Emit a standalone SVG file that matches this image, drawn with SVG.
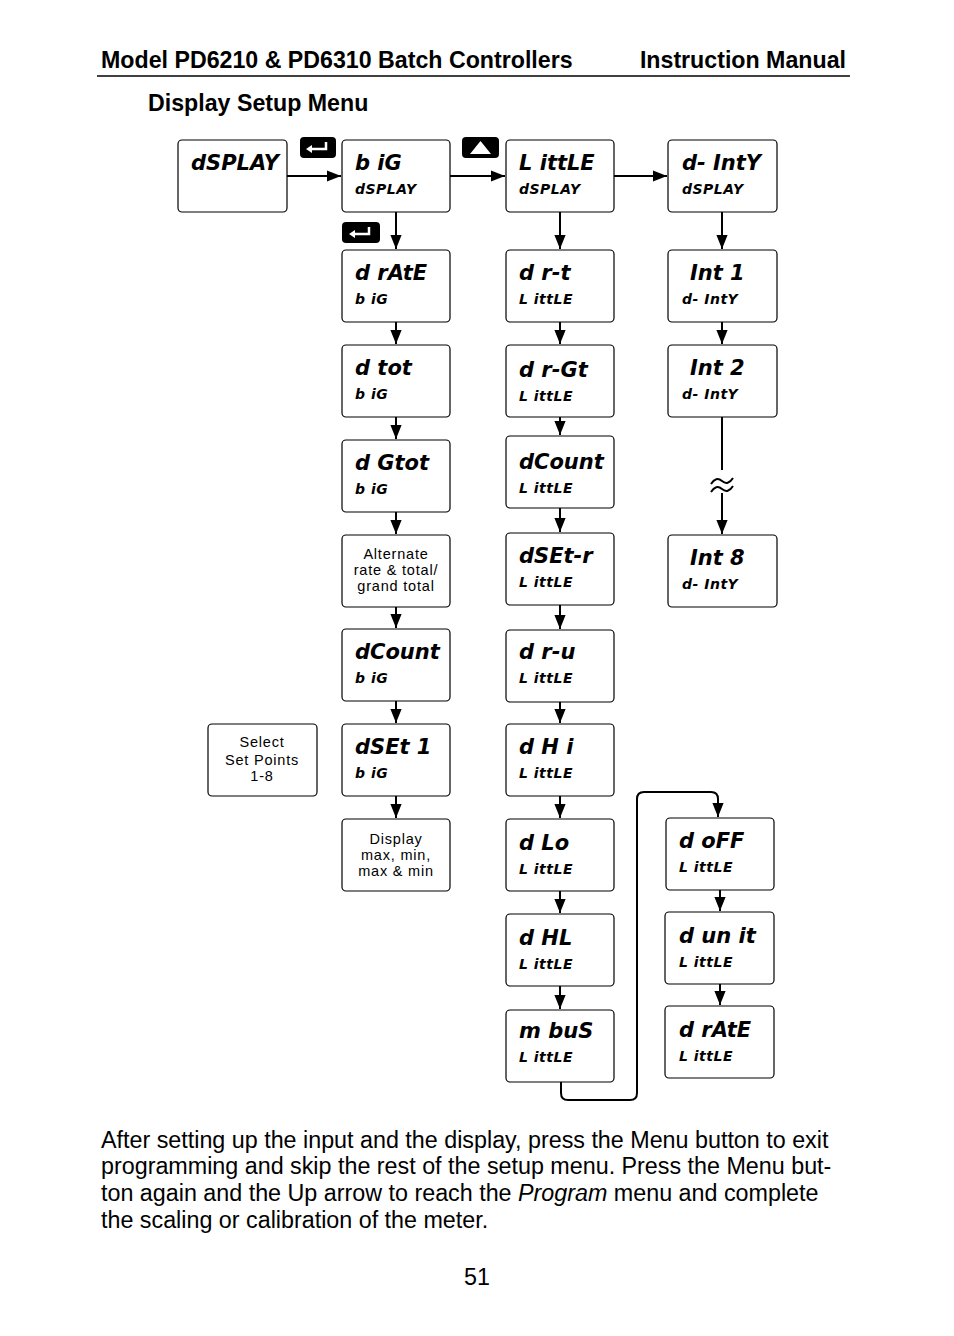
<svg xmlns="http://www.w3.org/2000/svg" width="954" height="1336" viewBox="0 0 954 1336">
<style>
.b{fill:#fff;stroke:#000;stroke-width:1.2}
.l{font-family:"DejaVu Sans",sans-serif;font-weight:bold;font-style:oblique;font-size:21px}
.s{font-family:"DejaVu Sans",sans-serif;font-weight:bold;font-style:oblique;font-size:14px;letter-spacing:0.5px}
.t{font-family:"Liberation Sans",Arial,sans-serif;font-size:14.5px;text-anchor:middle;letter-spacing:0.8px}
.h{font-family:"Liberation Sans",Arial,sans-serif;font-weight:bold;font-size:23.2px}
.p{font-family:"Liberation Sans",Arial,sans-serif;font-size:23.3px}
.c{fill:none;stroke:#000;stroke-width:2}
</style>
<defs><marker id="m" viewBox="0 0 10 10" refX="10" refY="5" markerWidth="14" markerHeight="14" orient="auto" markerUnits="userSpaceOnUse"><path d="M0 1L10 5L0 9z"/></marker></defs>
<rect width="954" height="1336" fill="#fff"/>
<text class="h" x="101" y="68">Model PD6210 &amp; PD6310 Batch Controllers</text>
<text class="h" x="846" y="68" text-anchor="end">Instruction Manual</text>
<line x1="97" y1="76" x2="850" y2="76" stroke="#000" stroke-width="1.5"/>
<text class="h" x="148" y="111" font-size="26.5">Display Setup Menu</text>
<g id="keys">
<rect x="300" y="137" width="36" height="21" rx="4"/><path d="M326 142v7h-16" stroke="#fff" stroke-width="2.5" fill="none"/><path d="M306 149l6-4v8z" fill="#fff"/>
<rect x="462" y="137" width="37" height="21" rx="4"/><path d="M470 154h21l-10.5-13z" fill="#fff"/>
<rect x="342" y="222" width="38" height="21" rx="4"/><path d="M369 227v7h-16" stroke="#fff" stroke-width="2.5" fill="none"/><path d="M349 234l6-4v8z" fill="#fff"/>
</g>
<g id="connectors">
<path class="c" d="M287 176H341" marker-end="url(#m)"/>
<path class="c" d="M450 176H505" marker-end="url(#m)"/>
<path class="c" d="M614 176H667" marker-end="url(#m)"/>
<path class="c" d="M396 212V249" marker-end="url(#m)"/>
<path class="c" d="M396 322V344" marker-end="url(#m)"/>
<path class="c" d="M396 417V439" marker-end="url(#m)"/>
<path class="c" d="M396 512V534" marker-end="url(#m)"/>
<path class="c" d="M396 607V628" marker-end="url(#m)"/>
<path class="c" d="M396 701V723" marker-end="url(#m)"/>
<path class="c" d="M396 796V818" marker-end="url(#m)"/>
<path class="c" d="M560 212V249" marker-end="url(#m)"/>
<path class="c" d="M560 322V344" marker-end="url(#m)"/>
<path class="c" d="M560 417V435" marker-end="url(#m)"/>
<path class="c" d="M560 508V532" marker-end="url(#m)"/>
<path class="c" d="M560 605V629" marker-end="url(#m)"/>
<path class="c" d="M560 702V723" marker-end="url(#m)"/>
<path class="c" d="M560 796V818" marker-end="url(#m)"/>
<path class="c" d="M560 891V913" marker-end="url(#m)"/>
<path class="c" d="M560 986V1009" marker-end="url(#m)"/>
<path class="c" d="M722 212V249" marker-end="url(#m)"/>
<path class="c" d="M722 322V344" marker-end="url(#m)"/>
<path class="c" d="M722 417V470M722 493V534" marker-end="url(#m)"/>
<path class="c" d="M711 484q5-8 11-3t11-3M711 492q5-8 11-3t11-3" stroke-width="1.2"/>
<path class="c" d="M561 1082V1093q0 7 7 7H630q7 0 7-7V799q0-7 7-7H711q7 0 7 7V817" marker-end="url(#m)"/>
<path class="c" d="M720 890V911" marker-end="url(#m)"/>
<path class="c" d="M720 984V1005" marker-end="url(#m)"/>
</g>
<g id="n1"><rect class="b" x="178" y="140" width="109" height="72" rx="4"/><text class="l" x="191" y="170">dSPLAY</text></g>
<g id="n2"><rect class="b" x="342" y="140" width="108" height="72" rx="4"/><text class="l" x="355" y="170">b iG</text><text class="s" x="355" y="194">dSPLAY</text></g>
<g id="n3"><rect class="b" x="506" y="140" width="108" height="72" rx="4"/><text class="l" x="519" y="170">L ittLE</text><text class="s" x="519" y="194">dSPLAY</text></g>
<g id="n4"><rect class="b" x="668" y="140" width="109" height="72" rx="4"/><text class="l" x="682" y="170">d- IntY</text><text class="s" x="682" y="194">dSPLAY</text></g>
<g id="b1"><rect class="b" x="342" y="250" width="108" height="72" rx="4"/><text class="l" x="355" y="280">d rAtE</text><text class="s" x="355" y="304">b iG</text></g>
<g id="b2"><rect class="b" x="342" y="345" width="108" height="72" rx="4"/><text class="l" x="355" y="375">d tot</text><text class="s" x="355" y="399">b iG</text></g>
<g id="b3"><rect class="b" x="342" y="440" width="108" height="72" rx="4"/><text class="l" x="355" y="470">d Gtot</text><text class="s" x="355" y="494">b iG</text></g>
<g id="b4"><rect class="b" x="342" y="535" width="108" height="72" rx="4"/><text class="t" x="396" y="559">Alternate</text><text class="t" x="396" y="575">rate &amp; total/</text><text class="t" x="396" y="591">grand total</text></g>
<g id="b5"><rect class="b" x="342" y="629" width="108" height="72" rx="4"/><text class="l" x="355" y="659">dCount</text><text class="s" x="355" y="683">b iG</text></g>
<g id="b6"><rect class="b" x="342" y="724" width="108" height="72" rx="4"/><text class="l" x="355" y="754">dSEt   1</text><text class="s" x="355" y="778">b iG</text></g>
<g id="b7"><rect class="b" x="342" y="819" width="108" height="72" rx="4"/><text class="t" x="396" y="844">Display</text><text class="t" x="396" y="860">max, min,</text><text class="t" x="396" y="876">max &amp; min</text></g>
<g id="sel"><rect class="b" x="208" y="724" width="109" height="72" rx="4"/><text class="t" x="262" y="747">Select</text><text class="t" x="262" y="765">Set Points</text><text class="t" x="262" y="781">1-8</text></g>
<g id="c1"><rect class="b" x="506" y="250" width="108" height="72" rx="4"/><text class="l" x="519" y="280">d r-t</text><text class="s" x="519" y="304">L ittLE</text></g>
<g id="c2"><rect class="b" x="506" y="345" width="108" height="72" rx="4"/><text class="l" x="519" y="377">d r-Gt</text><text class="s" x="519" y="401">L ittLE</text></g>
<g id="c3"><rect class="b" x="506" y="436" width="108" height="72" rx="4"/><text class="l" x="519" y="469">dCount</text><text class="s" x="519" y="493">L ittLE</text></g>
<g id="c4"><rect class="b" x="506" y="533" width="108" height="72" rx="4"/><text class="l" x="519" y="563">dSEt-r</text><text class="s" x="519" y="587">L ittLE</text></g>
<g id="c5"><rect class="b" x="506" y="630" width="108" height="72" rx="4"/><text class="l" x="519" y="659">d r-u</text><text class="s" x="519" y="683">L ittLE</text></g>
<g id="c6"><rect class="b" x="506" y="724" width="108" height="72" rx="4"/><text class="l" x="519" y="754">d H i</text><text class="s" x="519" y="778">L ittLE</text></g>
<g id="c7"><rect class="b" x="506" y="819" width="108" height="72" rx="4"/><text class="l" x="519" y="850">d Lo</text><text class="s" x="519" y="874">L ittLE</text></g>
<g id="c8"><rect class="b" x="506" y="914" width="108" height="72" rx="4"/><text class="l" x="519" y="945">d HL</text><text class="s" x="519" y="969">L ittLE</text></g>
<g id="c9"><rect class="b" x="506" y="1010" width="108" height="72" rx="4"/><text class="l" x="519" y="1038">m buS</text><text class="s" x="519" y="1062">L ittLE</text></g>
<g id="d1"><rect class="b" x="668" y="250" width="109" height="72" rx="4"/><text class="l" x="690" y="280">Int    1</text><text class="s" x="682" y="304">d- IntY</text></g>
<g id="d2"><rect class="b" x="668" y="345" width="109" height="72" rx="4"/><text class="l" x="690" y="375">Int    2</text><text class="s" x="682" y="399">d- IntY</text></g>
<g id="d3"><rect class="b" x="668" y="535" width="109" height="72" rx="4"/><text class="l" x="690" y="565">Int    8</text><text class="s" x="682" y="589">d- IntY</text></g>
<g id="e1"><rect class="b" x="666" y="818" width="108" height="72" rx="4"/><text class="l" x="679" y="848">d oFF</text><text class="s" x="679" y="872">L ittLE</text></g>
<g id="e2"><rect class="b" x="665" y="912" width="109" height="72" rx="4"/><text class="l" x="679" y="943">d un it</text><text class="s" x="679" y="967">L ittLE</text></g>
<g id="e3"><rect class="b" x="665" y="1006" width="109" height="72" rx="4"/><text class="l" x="679" y="1037">d rAtE</text><text class="s" x="679" y="1061">L ittLE</text></g>
<text class="p" x="101" y="1148">After setting up the input and the display, press the Menu button to exit</text>
<text class="p" x="101" y="1174">programming and skip the rest of the setup menu. Press the Menu but-</text>
<text class="p" x="101" y="1201">ton again and the Up arrow to reach the <tspan font-style="italic">Program</tspan> menu and complete</text>
<text class="p" x="101" y="1228">the scaling or calibration of the meter.</text>
<text class="p" x="477" y="1285" text-anchor="middle" font-size="18">51</text>
</svg>
